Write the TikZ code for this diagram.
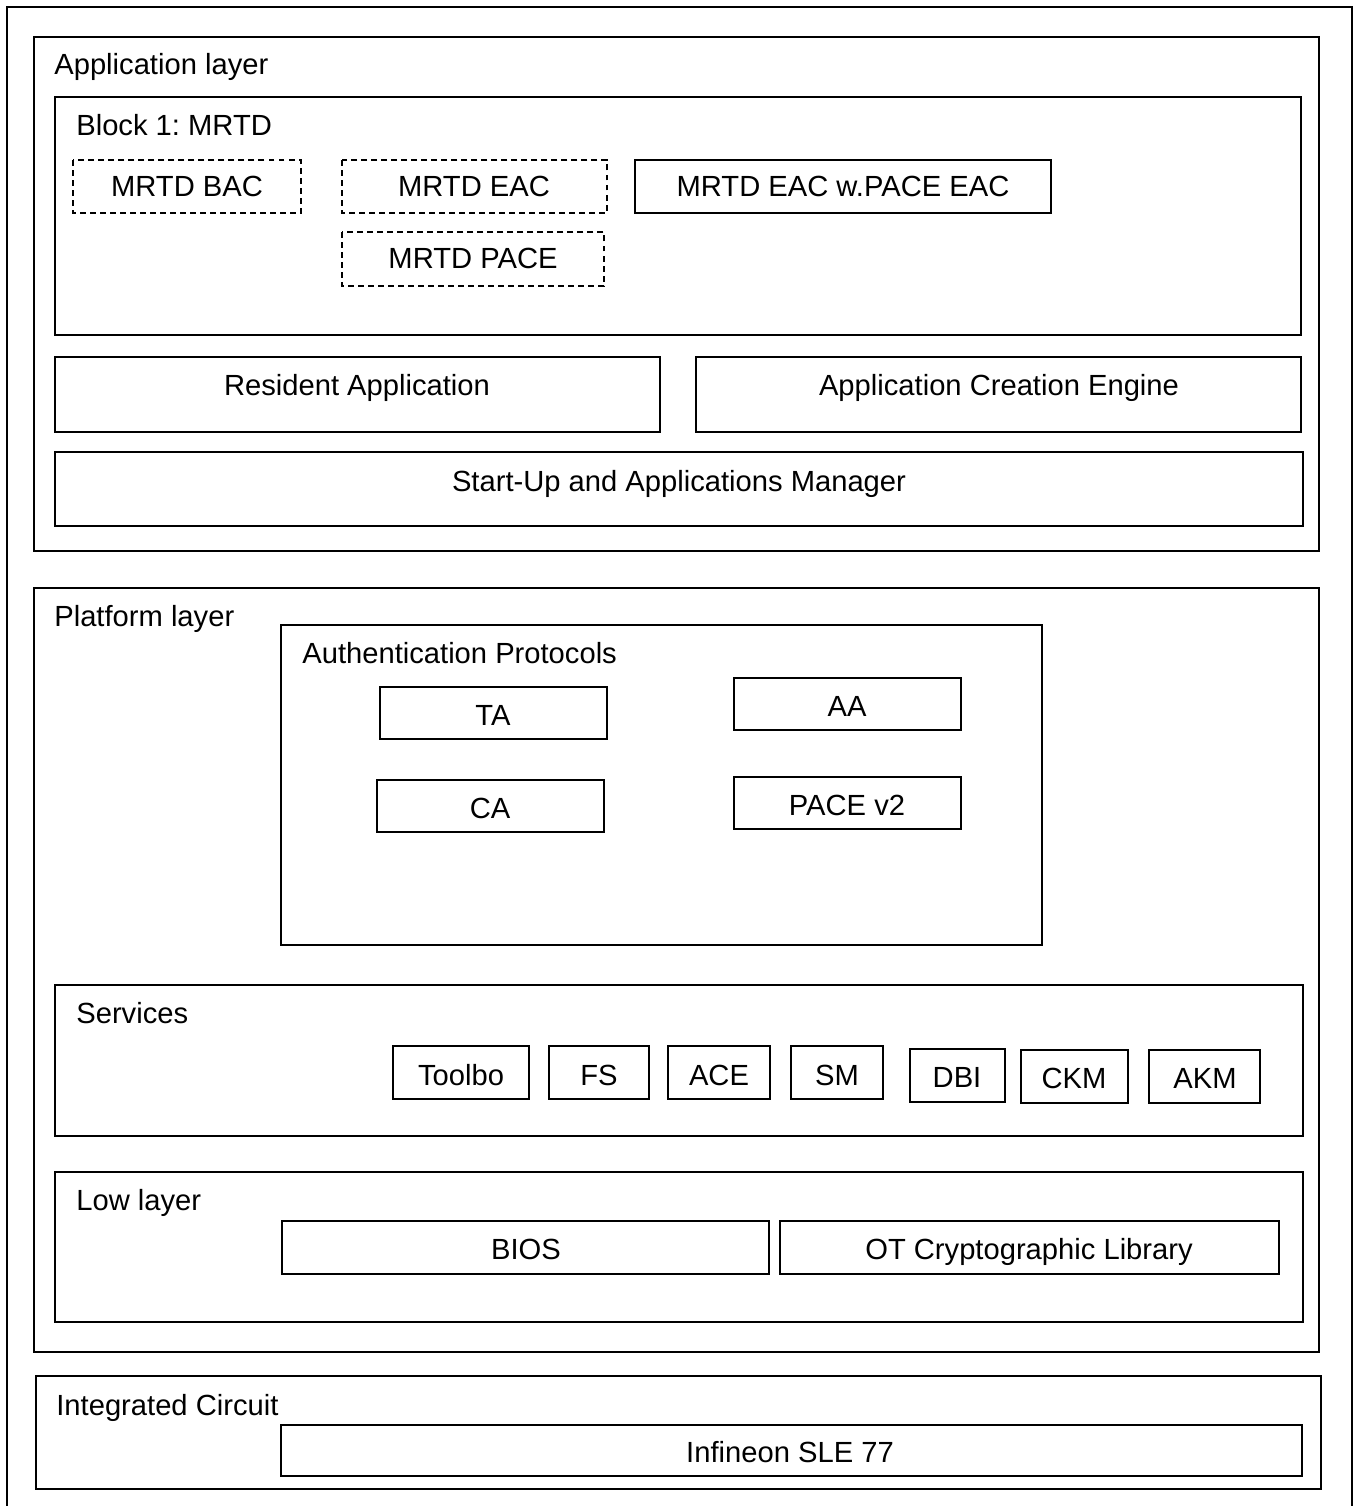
\documentclass[tikz,border=0pt]{standalone}
\usepackage{fontspec}
\setmainfont{Liberation Sans}
\frenchspacing
\begin{document}
\begin{tikzpicture}[x=0.02cm, y=-0.02cm, line join=miter,
    every node/.style={font=\fontsize{16.6}{20}\selectfont, inner sep=0pt},
    box/.style={draw, line width=1.1pt},
    dashbox/.style={draw, line width=1.1pt, dash pattern=on 3.4pt off 2.3pt},
    lbl/.style={anchor=base west},
    txt/.style={anchor=base}]
  \useasboundingbox (0, 0) rectangle (1358, 1506);
  % outer frame
  \draw[box] (7, 1520) -- (7, 7) -- (1352, 7) -- (1352, 1520);

  % Application layer
  \begin{scope}
    \draw[box] (34, 37) rectangle (1319, 551);
    \node[lbl] (applayer) at (54, 75) {Application layer};
    \draw[box] (55, 97) rectangle (1301, 335);
    \node[lbl] (block) at (76, 136) {Block 1: MRTD};
    \draw[dashbox] (73, 160) rectangle (301, 213);
    \node[txt] (bac) at (187, 197) {MRTD BAC};
    \draw[dashbox] (342, 160) rectangle (607, 213);
    \node[txt] (eac) at (474, 197) {MRTD EAC};
    \draw[dashbox] (342, 232) rectangle (604, 286);
    \node[txt] (pace) at (473, 269) {MRTD PACE};
    \draw[box] (635, 160) rectangle (1051, 213);
    \node[txt] (eacpace) at (843, 197) {MRTD EAC w.PACE EAC};
    \draw[box] (55, 357) rectangle (660, 432);
    \node[txt] (resident) at (357, 396) {Resident Application};
    \draw[box] (696, 357) rectangle (1301, 432);
    \node[txt] (engine) at (999, 396) {Application Creation Engine};
    \draw[box] (55, 452) rectangle (1303, 526);
    \node[txt] (manager) at (679, 491) {Start-Up and Applications Manager};
  \end{scope}

  % Platform layer
  \begin{scope}
    \draw[box] (34, 588) rectangle (1319, 1352);
    \node[lbl] (platform) at (54, 626) {Platform layer};
    % authentication protocols
    \draw[box] (281, 625) rectangle (1042, 945);
    \node[lbl] (auth) at (302, 663) {Authentication Protocols};
    \draw[box] (380, 687) rectangle (607, 739);
    \node[txt] (ta) at (493, 725) {TA};
    \draw[box] (734, 678) rectangle (961, 730);
    \node[txt] (aa) at (847, 716) {AA};
    \draw[box] (377, 780) rectangle (604, 832);
    \node[txt] (ca) at (490, 818) {CA};
    \draw[box] (734, 777) rectangle (961, 829);
    \node[txt] (pacev2) at (847, 815) {PACE v2};
    % services
    \draw[box] (55, 985) rectangle (1303, 1136);
    \node[lbl] (services) at (76, 1023) {Services};
    \draw[box] (393, 1046) rectangle (529, 1099);
    \node[txt] (toolbo) at (461, 1085) {Toolbo};
    \draw[box] (549, 1046) rectangle (649, 1099);
    \node[txt] (fs) at (599, 1085) {FS};
    \draw[box] (668, 1046) rectangle (770, 1099);
    \node[txt] (ace) at (719, 1085) {ACE};
    \draw[box] (791, 1046) rectangle (883, 1099);
    \node[txt] (sm) at (837, 1085) {SM};
    \draw[box] (910, 1049) rectangle (1005, 1102);
    \node[txt] (dbi) at (957, 1087) {DBI};
    \draw[box] (1021, 1050) rectangle (1128, 1103);
    \node[txt] (ckm) at (1074, 1088) {CKM};
    \draw[box] (1149, 1050) rectangle (1260, 1103);
    \node[txt] (akm) at (1205, 1088) {AKM};
    % low layer
    \draw[box] (55, 1172) rectangle (1303, 1322);
    \node[lbl] (low) at (76, 1210) {Low layer};
    \draw[box] (282, 1221) rectangle (769, 1274);
    \node[txt] (bios) at (526, 1259) {BIOS};
    \draw[box] (780, 1221) rectangle (1279, 1274);
    \node[txt] (crypto) at (1029, 1259) {OT Cryptographic Library};
  \end{scope}

  % Integrated Circuit
  \begin{scope}
    \draw[box] (36, 1376) rectangle (1321, 1489);
    \node[lbl] (ic) at (56, 1415) {Integrated Circuit};
    \draw[box] (281, 1425) rectangle (1302, 1476);
    \node[txt] (sle) at (790, 1462) {Infineon SLE 77};
  \end{scope}
\end{tikzpicture}
\end{document}
